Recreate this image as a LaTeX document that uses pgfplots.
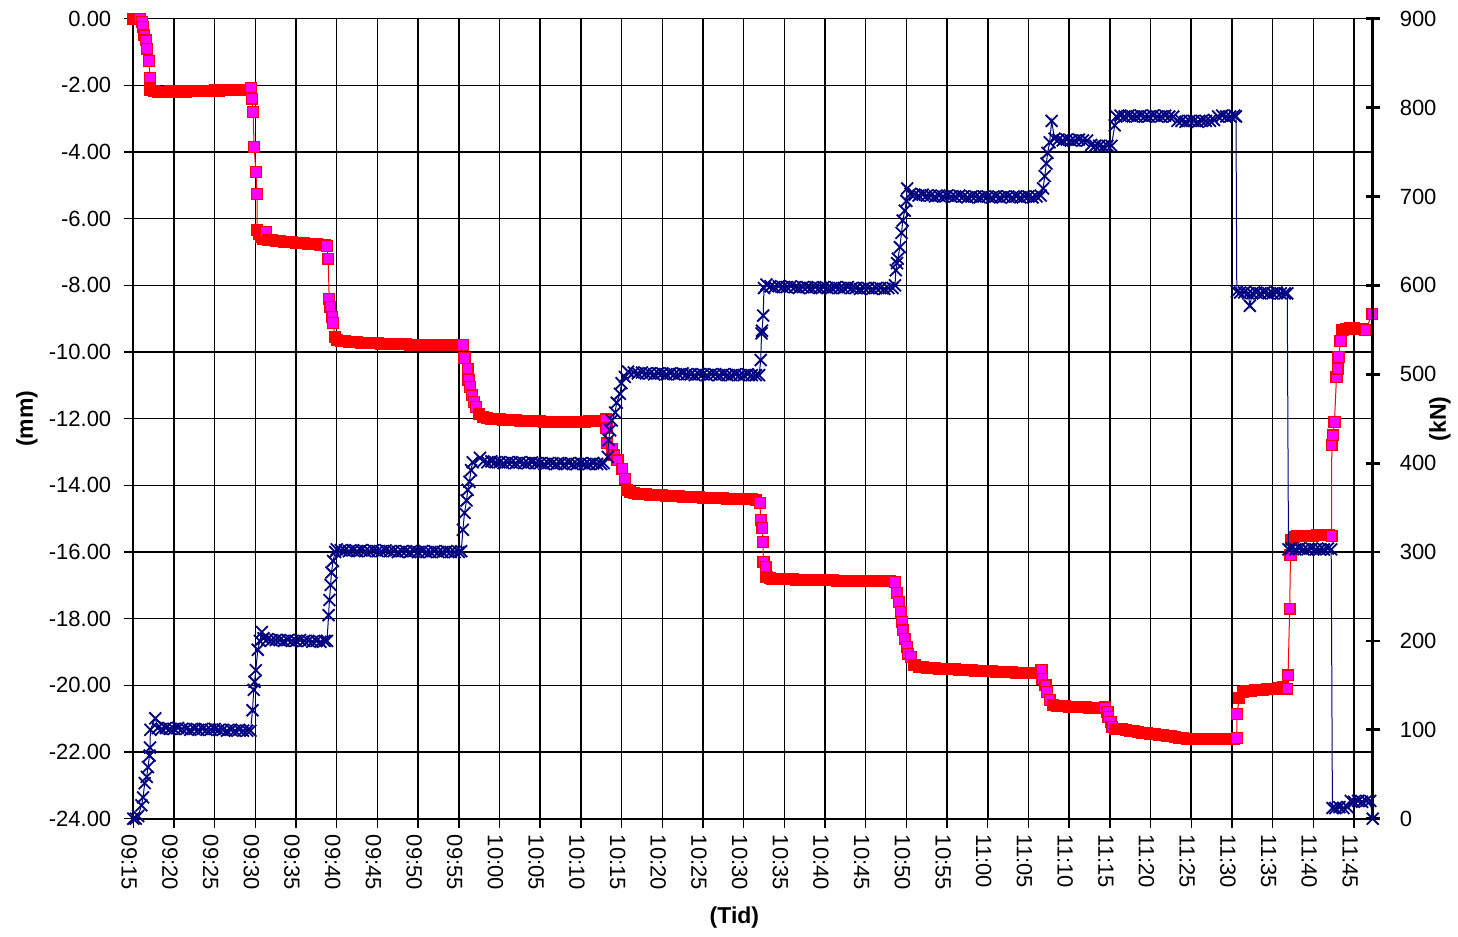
\documentclass[border=0pt]{standalone}
\usepackage{pgfplots}
\pgfplotsset{compat=1.18}
\usepackage{pgfplotstable}
\usepackage{fontspec}
\setmainfont{Liberation Sans}
\definecolor{navy}{RGB}{0,0,128}
\definecolor{mag}{RGB}{255,0,255}

\pgfplotstableread{
t v c
0.00 0.00 d
0.30 0.00 d
0.60 0.00 d
0.82 0.00 i
1.05 -0.10 i
1.19 -0.25 i
1.34 -0.50 i
1.56 -0.65 i
1.68 -0.90 i
1.93 -1.27 i
2.05 -1.77 i
2.10 -2.14 d
2.50 -2.18 d
3.00 -2.20 d
3.50 -2.19 d
4.00 -2.20 d
4.50 -2.18 d
5.00 -2.19 d
5.50 -2.20 d
6.00 -2.18 d
6.50 -2.19 d
7.00 -2.17 d
7.50 -2.18 d
8.00 -2.16 d
8.50 -2.17 d
9.00 -2.16 d
9.50 -2.17 d
10.00 -2.15 d
10.50 -2.16 d
11.00 -2.14 d
11.50 -2.15 d
12.00 -2.14 d
12.50 -2.15 d
13.00 -2.13 d
13.50 -2.14 d
13.90 -2.13 d
14.46 -2.07 i
14.60 -2.40 i
14.72 -2.80 i
14.85 -3.85 i
15.07 -4.60 i
15.20 -5.26 i
15.22 -6.34 d
15.40 -6.45 d
15.70 -6.55 d
16.00 -6.60 d
16.30 -6.40 i
16.60 -6.63 d
17.00 -6.64 d
17.50 -6.66 d
18.00 -6.67 d
18.50 -6.69 d
19.00 -6.70 d
19.50 -6.71 d
20.00 -6.72 d
20.50 -6.73 d
21.00 -6.74 d
21.50 -6.75 d
22.00 -6.76 d
22.50 -6.77 d
23.00 -6.78 d
23.50 -6.79 d
23.80 -6.82 i
23.95 -7.20 i
24.07 -8.41 i
24.20 -8.65 i
24.45 -8.95 i
24.55 -9.13 i
24.78 -9.55 d
25.00 -9.64 d
25.50 -9.66 d
26.00 -9.68 d
26.50 -9.69 d
27.00 -9.70 d
27.50 -9.71 d
28.00 -9.72 d
28.50 -9.72 d
29.00 -9.73 d
29.50 -9.74 d
30.00 -9.74 d
30.50 -9.75 d
31.00 -9.75 d
31.50 -9.76 d
32.00 -9.76 d
32.50 -9.77 d
33.00 -9.77 d
33.50 -9.77 d
34.00 -9.78 d
34.50 -9.78 d
35.00 -9.78 d
35.50 -9.78 d
36.00 -9.79 d
36.50 -9.79 d
37.00 -9.79 d
37.50 -9.79 d
38.00 -9.79 d
38.50 -9.80 d
39.00 -9.80 d
39.50 -9.80 d
40.00 -9.80 d
40.50 -9.79 i
40.70 -10.18 i
41.10 -10.50 i
41.20 -10.84 i
41.37 -11.05 i
41.60 -11.30 i
41.85 -11.50 i
42.10 -11.65 i
42.50 -11.85 d
43.00 -11.95 d
43.50 -11.98 d
44.00 -12.00 d
44.50 -12.01 d
45.00 -12.02 d
45.50 -12.03 d
46.00 -12.04 d
46.50 -12.05 d
47.00 -12.05 d
47.50 -12.06 d
48.00 -12.06 d
48.50 -12.07 d
49.00 -12.07 d
49.50 -12.08 d
50.00 -12.08 d
50.50 -12.09 d
51.00 -12.09 d
51.50 -12.09 d
52.00 -12.10 d
52.50 -12.10 d
53.00 -12.10 d
53.50 -12.10 d
54.00 -12.10 d
54.50 -12.10 d
55.00 -12.09 d
55.50 -12.09 d
56.00 -12.08 d
56.50 -12.08 d
57.00 -12.07 d
57.50 -12.06 d
58.10 -12.02 i
58.15 -12.29 i
58.20 -12.74 i
58.80 -12.90 i
59.10 -13.10 i
59.50 -13.25 i
60.10 -13.50 i
60.40 -13.80 i
60.70 -14.14 d
61.00 -14.20 d
61.50 -14.23 d
62.00 -14.25 d
62.50 -14.26 d
63.00 -14.27 d
63.50 -14.28 d
64.00 -14.29 d
64.50 -14.30 d
65.00 -14.30 d
65.50 -14.31 d
66.00 -14.32 d
66.50 -14.32 d
67.00 -14.33 d
67.50 -14.34 d
68.00 -14.34 d
68.50 -14.35 d
69.00 -14.35 d
69.50 -14.36 d
70.00 -14.37 d
70.50 -14.37 d
71.00 -14.38 d
71.50 -14.38 d
72.00 -14.39 d
72.50 -14.39 d
73.00 -14.40 d
73.50 -14.40 d
74.00 -14.40 d
74.50 -14.41 d
75.00 -14.41 d
75.50 -14.42 d
76.00 -14.42 d
76.50 -14.43 d
77.00 -14.53 i
77.10 -15.04 i
77.30 -15.28 i
77.35 -15.70 i
77.45 -16.30 i
77.70 -16.45 i
77.80 -16.75 d
78.20 -16.78 d
78.50 -16.80 d
79.00 -16.80 d
79.50 -16.81 d
80.00 -16.81 d
80.50 -16.82 d
81.00 -16.82 d
81.50 -16.83 d
82.00 -16.83 d
82.50 -16.83 d
83.00 -16.84 d
83.50 -16.84 d
84.00 -16.84 d
84.50 -16.85 d
85.00 -16.85 d
85.50 -16.85 d
86.00 -16.85 d
86.50 -16.86 d
87.00 -16.86 d
87.50 -16.86 d
88.00 -16.86 d
88.50 -16.87 d
89.00 -16.87 d
89.50 -16.87 d
90.00 -16.87 d
90.50 -16.87 d
91.00 -16.88 d
91.50 -16.88 d
92.00 -16.88 d
92.50 -16.88 d
93.00 -16.88 d
93.60 -16.90 i
93.80 -17.23 i
94.05 -17.50 i
94.30 -17.80 i
94.45 -18.10 i
94.55 -18.35 i
94.80 -18.60 i
95.05 -18.85 i
95.20 -19.05 i
95.55 -19.15 i
96.00 -19.40 d
96.60 -19.45 d
97.00 -19.46 d
97.50 -19.47 d
98.00 -19.48 d
98.50 -19.49 d
99.00 -19.50 d
99.50 -19.50 d
100.00 -19.51 d
100.50 -19.52 d
101.00 -19.52 d
101.50 -19.53 d
102.00 -19.54 d
102.50 -19.54 d
103.00 -19.55 d
103.50 -19.56 d
104.00 -19.56 d
104.50 -19.57 d
105.00 -19.58 d
105.50 -19.58 d
106.00 -19.59 d
106.50 -19.60 d
107.00 -19.60 d
107.50 -19.61 d
108.00 -19.61 d
108.50 -19.62 d
109.00 -19.62 d
109.50 -19.63 d
110.00 -19.63 d
110.50 -19.63 d
111.00 -19.63 d
111.60 -19.54 i
111.70 -19.80 i
112.10 -20.00 i
112.30 -20.20 i
112.60 -20.44 i
113.00 -20.60 d
113.50 -20.62 d
114.00 -20.63 d
114.50 -20.63 d
115.00 -20.64 d
115.50 -20.65 d
116.00 -20.65 d
116.50 -20.66 d
117.00 -20.66 d
117.50 -20.67 d
118.00 -20.67 d
118.50 -20.68 d
119.00 -20.68 d
119.40 -20.66 i
119.70 -20.80 i
119.80 -20.95 i
120.10 -21.10 i
120.30 -21.25 i
120.60 -21.30 d
121.00 -21.31 d
121.50 -21.32 d
122.00 -21.34 d
122.50 -21.36 d
123.00 -21.38 d
123.50 -21.40 d
124.00 -21.42 d
124.50 -21.43 d
125.00 -21.45 d
125.50 -21.47 d
126.00 -21.49 d
126.50 -21.50 d
127.00 -21.52 d
127.50 -21.53 d
128.00 -21.55 d
128.50 -21.57 d
129.00 -21.58 d
129.50 -21.60 d
130.00 -21.60 d
130.50 -21.61 d
131.00 -21.61 d
131.50 -21.62 d
132.00 -21.62 d
132.50 -21.62 d
133.00 -21.62 d
133.50 -21.62 d
134.00 -21.62 d
134.50 -21.62 d
135.00 -21.62 d
135.30 -21.62 d
135.60 -21.58 i
135.62 -20.86 i
135.90 -20.38 d
136.40 -20.20 d
136.80 -20.18 d
137.30 -20.16 d
137.80 -20.15 d
138.30 -20.14 d
138.80 -20.13 d
139.30 -20.12 d
139.80 -20.11 d
140.30 -20.10 d
140.80 -20.08 d
141.30 -20.06 d
141.80 -20.10 i
141.90 -19.70 i
142.10 -17.70 i
142.20 -16.10 i
142.30 -15.65 d
142.60 -15.55 d
143.00 -15.53 d
143.50 -15.52 d
144.00 -15.52 d
144.50 -15.51 d
145.00 -15.51 d
145.50 -15.50 d
146.00 -15.50 d
146.50 -15.50 d
146.90 -15.50 d
147.25 -15.52 i
147.27 -12.79 i
147.40 -12.50 i
147.60 -12.10 i
147.85 -10.75 i
148.00 -10.50 i
148.10 -10.15 i
148.35 -9.67 i
148.60 -9.35 d
149.00 -9.30 d
149.50 -9.28 d
150.00 -9.28 d
150.50 -9.30 d
151.00 -9.32 d
151.40 -9.34 i
152.25 -8.86 i
}\redtab

\pgfplotstableread{
t k
0.00 0
0.30 0
0.60 3
1.00 15
1.20 24
1.40 40
1.65 47
1.80 58
2.00 71
2.05 80
2.10 100
2.70 113
3.00 102
3.50 101
4.00 102
4.50 101
5.00 101
5.50 102
6.00 101
6.50 101
7.00 100
7.50 101
8.00 100
8.50 101
9.00 100
9.50 100
10.00 101
10.50 100
11.00 100
11.50 99
12.00 100
12.50 99
13.00 100
13.50 99
14.00 99
14.40 99
14.65 122
14.80 145
14.90 154
15.05 167
15.30 190
15.55 200
15.80 210
16.00 203
16.50 202
17.00 201
17.50 201
18.00 201
18.50 200
19.00 201
19.50 200
20.00 200
20.50 201
21.00 200
21.50 200
22.00 199
22.50 200
23.00 199
23.50 200
23.80 200
24.00 229
24.10 246
24.25 263
24.35 277
24.55 290
24.80 300
25.00 303
25.50 302
26.00 302
26.50 301
27.00 302
27.50 301
28.00 302
28.50 301
29.00 301
29.50 302
30.00 301
30.50 301
31.00 302
31.50 301
32.00 301
32.50 300
33.00 301
33.50 301
34.00 300
34.50 301
35.00 300
35.50 301
36.00 300
36.50 300
37.00 301
37.50 300
38.00 300
38.50 301
39.00 300
39.50 300
40.00 300
40.30 301
40.50 325
40.70 344
40.95 358
41.10 370
41.30 379
41.50 392
41.70 401
42.60 406
43.00 402
43.50 401
44.00 402
44.50 401
45.00 401
45.50 400
46.00 401
46.50 401
47.00 400
47.50 401
48.00 400
48.50 400
49.00 401
49.50 400
50.00 400
50.50 399
51.00 400
51.50 400
52.00 399
52.50 400
53.00 399
53.50 400
54.00 399
54.50 399
55.00 400
55.50 399
56.00 399
56.50 400
57.00 399
57.50 399
57.80 400
58.30 407
58.40 426
58.60 437
58.80 448
59.20 457
59.40 468
59.80 478
60.00 490
60.40 497
60.80 503
61.50 502
62.00 501
62.50 502
63.00 501
63.50 501
64.00 500
64.50 501
65.00 501
65.50 500
66.00 501
66.50 500
67.00 500
67.50 501
68.00 500
68.50 500
69.00 499
69.50 500
70.00 500
70.50 499
71.00 500
71.50 500
72.00 499
72.50 500
73.00 499
73.50 499
74.00 500
74.50 499
75.00 499
75.50 500
76.00 499
76.50 499
76.90 499
77.10 516
77.20 546
77.25 549
77.40 566
77.50 597
77.80 601
78.30 599
78.80 598
79.30 599
79.80 598
80.30 598
80.80 599
81.30 598
81.80 597
82.30 598
82.80 598
83.30 597
83.80 598
84.30 597
84.80 598
85.30 597
85.80 597
86.30 598
86.80 597
87.30 597
87.80 598
88.30 597
88.80 597
89.30 596
89.80 597
90.30 597
90.80 596
91.30 597
91.80 597
92.30 596
92.80 597
93.30 597
93.60 600
93.70 617
93.85 625
93.95 630
94.20 643
94.40 659
94.55 673
94.80 684
95.00 695
95.10 709
95.50 703
96.00 702
96.50 701
97.00 702
97.50 701
98.00 701
98.50 700
99.00 701
99.50 700
100.00 701
100.50 700
101.00 700
101.50 701
102.00 700
102.50 699
103.00 700
103.50 700
104.00 699
104.50 700
105.00 700
105.50 699
106.00 700
106.50 699
107.00 700
107.50 700
108.00 699
108.50 700
109.00 699
109.50 700
110.00 700
110.50 699
111.00 700
111.50 701
111.80 709
112.00 723
112.20 737
112.35 749
112.60 761
112.85 785
113.20 765
113.70 764
114.20 763
114.70 764
115.20 763
115.70 763
116.20 764
116.70 763
117.20 763
117.70 758
118.20 757
118.70 757
119.20 756
119.70 757
120.20 757
120.60 780
120.80 790
121.30 791
121.80 790
122.30 791
122.80 790
123.30 790
123.80 791
124.30 790
124.80 790
125.30 791
125.80 790
126.30 790
126.80 791
127.30 790
127.80 790
128.30 785
128.80 785
129.30 784
129.80 785
130.30 785
130.80 784
131.30 785
131.80 785
132.30 785
132.80 786
133.30 790
133.80 791
134.30 790
134.80 790
135.30 791
135.50 790
135.60 593
136.00 592
136.50 592
137.00 591
137.20 577
137.50 591
138.00 592
138.50 591
139.00 592
139.50 591
140.00 591
140.50 592
141.00 591
141.50 591
141.80 591
141.95 303
142.30 304
142.80 303
143.30 304
143.80 303
144.30 303
144.80 304
145.30 303
145.80 303
146.30 303
146.80 304
147.20 303
147.35 12
147.70 12
148.20 13
148.70 12
149.20 13
149.60 20
150.00 19
150.50 20
151.00 19
151.50 20
152.00 20
152.30 0
}\bluetab

\begin{document}
\begin{tikzpicture}
\pgfplotsset{
  every axis/.append style={
    scale only axis, width=619.7pt, height=400pt,
    xmin=0, xmax=152.3, clip=false,
    tick label style={font=\fontsize{11}{13}\selectfont},
    label style={font=\fontsize{11.5}{14}\selectfont\bfseries},
    /pgf/number format/assume math mode=true,
  }
}
\begin{axis}[
  ymin=-24, ymax=0,
  ytick={-24,-22,...,0},
  yticklabel style={/pgf/number format/fixed, /pgf/number format/fixed zerofill, /pgf/number format/precision=2, xshift=-3pt},
  xtick={0,5,...,150},
  xticklabels={09:15,09:20,09:25,09:30,09:35,09:40,09:45,09:50,09:55,10:00,10:05,10:10,10:15,10:20,10:25,10:30,10:35,10:40,10:45,10:50,10:55,11:00,11:05,11:10,11:15,11:20,11:25,11:30,11:35,11:40,11:45},
  xticklabel style={rotate=-90, anchor=west, yshift=-2pt},
  axis x line*=bottom, axis y line*=left,
  axis line style={black, line width=0.9pt, -},
  tick align=outside, major tick length=4.5pt,
  tick style={black, line width=0.7pt},
  grid=major, major grid style={black, line width=0.75pt},
  xlabel={(Tid)}, ylabel={(mm)},
  xlabel style={at={(axis description cs:0.485,-0.124)}, anchor=center},
  ylabel style={at={(axis description cs:-0.0858,0.5)}, anchor=center},
]
\coordinate (ll) at (rel axis cs:0,0);
\coordinate (ur) at (rel axis cs:1,1);
\addplot[red, line width=0.5pt, mark size=2.7pt, scatter, scatter src=explicit symbolic,
  scatter/classes={d={mark=square*, draw=red, fill=red, line width=0.7pt}, i={mark=square*, draw=red, fill=mag, line width=0.7pt}}]
  table[x=t, y=v, meta=c] {\redtab};
\end{axis}
\begin{axis}[
  ymin=0, ymax=900, ytick={0,100,...,900},
  axis y line*=right, axis x line=none,
  axis line style={black, line width=1.6pt, -},
  tick align=center, major tick length=7pt,
  ytick style={black, line width=1.4pt},
  yticklabel style={xshift=6.5pt},
  ylabel={(kN)},
  ylabel style={at={(axis description cs:1.0543,0.5)}, anchor=center},
]
\addplot[navy, line width=0.5pt, mark=x, mark size=4.2pt, mark options={line width=0.9pt}]
  table[x=t, y=k] {\bluetab};
\end{axis}
\pgfresetboundingbox
\path ([shift={(-66.65pt,-59.15pt)}]ll) rectangle ([shift={(42.65pt,9.35pt)}]ur);
\end{tikzpicture}
\end{document}
